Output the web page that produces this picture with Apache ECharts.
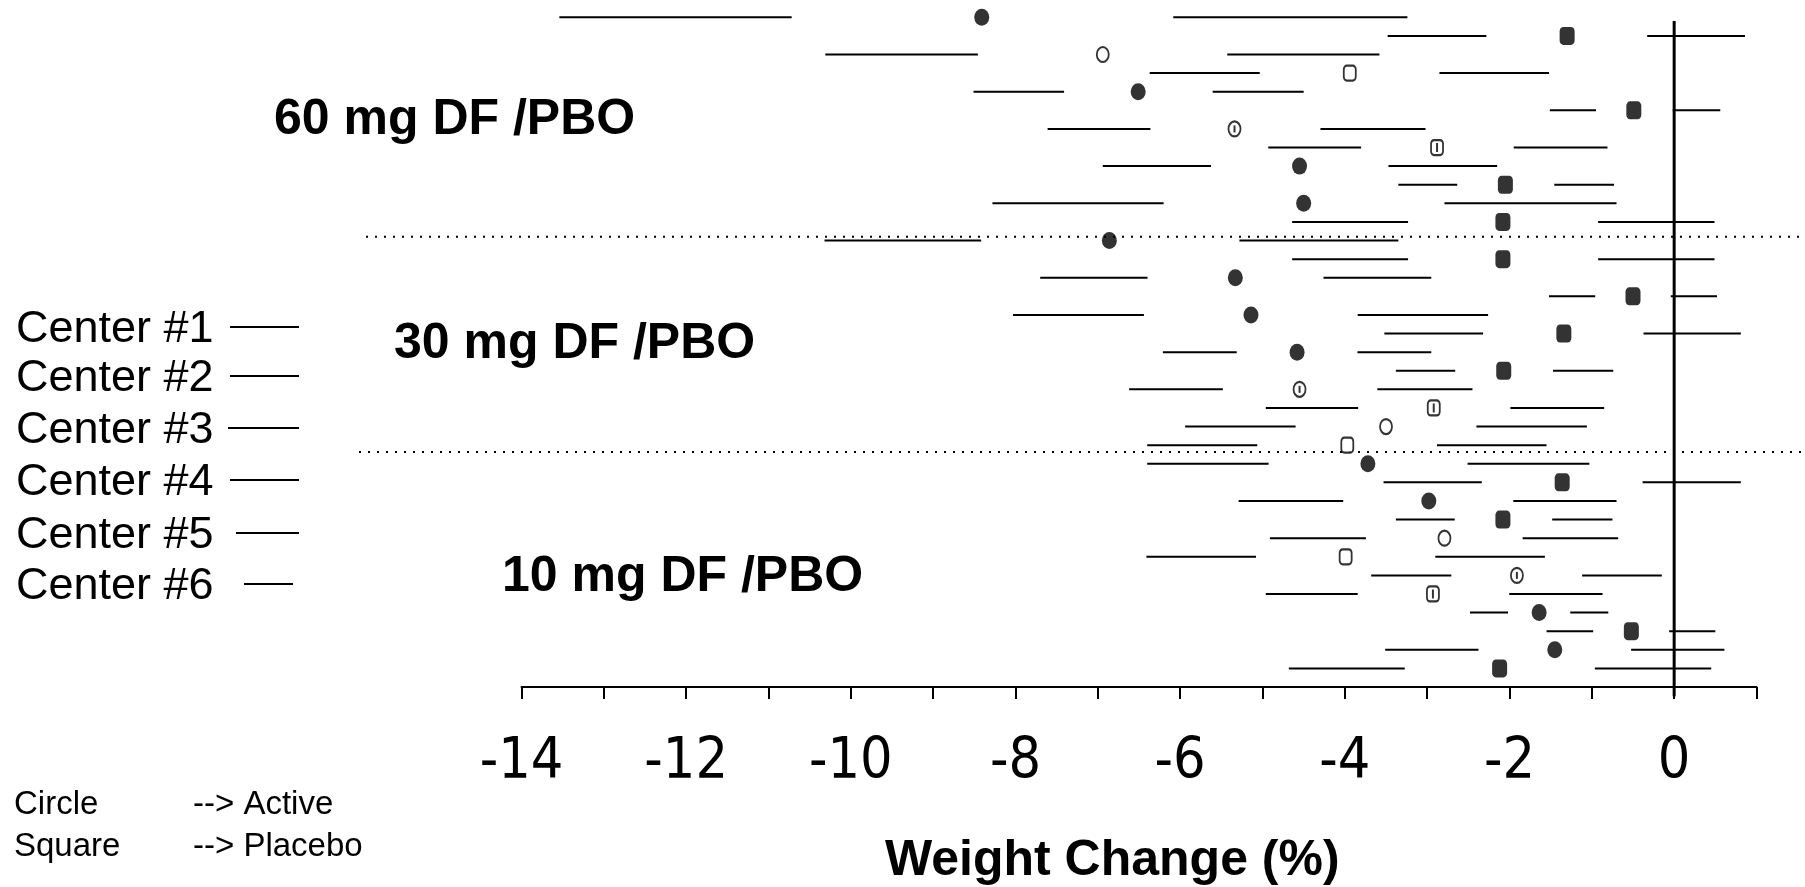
<!DOCTYPE html>
<html>
<head>
<meta charset="utf-8">
<script src="https://cdn.jsdelivr.net/npm/echarts@6/dist/echarts.min.js"></script>
<style>
html,body{margin:0;padding:0;background:#fff;}
#chart{width:1805px;height:887px;}
</style>
</head>
<body>
<div id="chart"></div>
<script>
// ---- data ----
const doseGroups = ['60 mg DF /PBO', '30 mg DF /PBO', '10 mg DF /PBO'];
const centerLabels = ['Center #1', 'Center #2', 'Center #3', 'Center #4', 'Center #5', 'Center #6'];
// row order top -> bottom (36 rows: active / placebo pairs)
const rowLabels = [
  '60 C1 Active','60 C1 Placebo','60 C2 Active','60 C2 Placebo','60 C3 Active','60 C3 Placebo',
  '60 C4 Active','60 C4 Placebo','60 C5 Active','60 C5 Placebo','60 C6 Active','60 C6 Placebo',
  '30 C6 Active','30 C6 Placebo','30 C3 Active','30 C3 Placebo','30 C1 Active','30 C1 Placebo',
  '30 C5 Active','30 C5 Placebo','30 C4 Active','30 C4 Placebo','30 C2 Active','30 C2 Placebo',
  '10 C1 Active','10 C1 Placebo','10 C5 Active','10 C5 Placebo','10 C2 Active','10 C2 Placebo',
  '10 C4 Active','10 C4 Placebo','10 C3 Active','10 C3 Placebo','10 C6 Active','10 C6 Placebo'
];
const meanChange = [
  -8.41,-1.30,-6.94,-3.94,-6.51,-0.49,-5.34,-2.88,-4.55,-2.05,-4.50,-2.08,
  -6.86,-2.08,-5.33,-0.50,-5.14,-1.34,-4.58,-2.07,-4.55,-2.92,-3.50,-3.97,
  -3.72,-1.36,-2.98,-2.08,-2.79,-3.99,-1.91,-2.93,-1.64,-0.52,-1.45,-2.12
];
const lowerCI = [
  -13.54,-3.48,-10.31,-6.37,-8.51,-1.51,-7.61,-4.93,-6.94,-3.35,-8.28,-4.64,
  -10.32,-4.64,-7.70,-1.52,-8.03,-3.52,-6.21,-3.38,-6.62,-4.96,-5.94,-6.40,
  -6.40,-3.53,-5.29,-3.38,-4.91,-6.41,-3.68,-4.96,-2.48,-1.55,-3.51,-4.68
];
const upperCI = [
  -3.24,0.86,-3.58,-1.52,-4.50,0.56,-3.02,-0.81,-2.15,-0.73,-0.70,0.49,
  -3.35,0.49,-2.95,0.52,-2.26,0.81,-2.95,-0.74,-2.45,-0.85,-1.06,-1.55,
  -1.03,0.81,-0.70,-0.75,-0.68,-1.57,-0.15,-0.87,-0.80,0.50,0.61,0.45
];
// FC filled circle, FS filled square, OC open circle, OS open square, MC marked circle, MS marked square
const markerType = [
  'FC','FS','OC','OS','FC','FS','MC','MS','FC','FS','FC','FS',
  'FC','FS','FC','FS','FC','FS','FC','FS','MC','MS','OC','OS',
  'FC','FS','FC','FS','OC','OS','MC','MS','FC','FS','FC','FS'
];
const groupSeparators = [11.8, 23.37];
const xTickLabels = [-14, -12, -10, -8, -6, -4, -2, 0];

// ---- chart ----
const chart = echarts.init(document.getElementById('chart'), null, {renderer: 'canvas'});
const SEG = 0.55; // fraction of each half-interval drawn as line

const ciData = rowLabels.map((r, i) => [i, lowerCI[i], meanChange[i], upperCI[i]]);
function pts(type) {
  const out = [];
  markerType.forEach((t, i) => { if (t === type) out.push([meanChange[i], i]); });
  return out;
}

const option = {
  animation: false,
  backgroundColor: '#fff',
  grid: {left: 521.5, right: 48.5, top: 8, bottom: 200, containLabel: false},
  xAxis: {
    type: 'value', min: -14, max: 1, interval: 1,
    axisLine: {show: true, onZero: false, lineStyle: {color: '#000', width: 2}},
    axisTick: {show: true, length: 12, lineStyle: {color: '#000', width: 2}},
    splitLine: {show: false},
    axisLabel: {
      margin: 48,
      color: '#000',
      fontSize: 57,
      fontFamily: '"Liberation Sans Narrow", "DejaVu Sans Condensed", "Arial Narrow", sans-serif',
      formatter: v => xTickLabels.indexOf(v) >= 0 ? String(v) : ''
    }
  },
  yAxis: {type: 'value', inverse: true, min: -0.5, max: 36, show: false},
  series: [
    {
      type: 'custom', name: 'CI', data: ciData,
      encode: {x: [1, 2, 3], y: 0},
      renderItem: function (params, api) {
        const i = api.value(0), lo = api.value(1), m = api.value(2), hi = api.value(3);
        const a = api.coord([lo, i]);
        const b = api.coord([lo + SEG * (m - lo), i]);
        const c = api.coord([hi - SEG * (hi - m), i]);
        const d = api.coord([hi, i]);
        const st = {stroke: '#000', lineWidth: 2};
        return {type: 'group', children: [
          {type: 'line', shape: {x1: a[0], y1: a[1], x2: b[0], y2: b[1]}, style: st},
          {type: 'line', shape: {x1: c[0], y1: c[1], x2: d[0], y2: d[1]}, style: st}
        ]};
      }
    },
    {
      type: 'line', name: 'zero', data: [[0, 0.2], [0, 36.5]], clip: false,
      symbol: 'none', lineStyle: {color: '#000', width: 3}
    },
    {type: 'scatter', name: 'FC', data: pts('FC'), symbol: 'circle', symbolSize: [15, 17], itemStyle: {color: '#000'}},
    {type: 'scatter', name: 'FS', data: pts('FS'), symbol: 'roundRect', symbolSize: [15, 18], itemStyle: {color: '#000'}},
    {type: 'scatter', name: 'OC', data: pts('OC'), symbol: 'emptyCircle', symbolSize: [12, 15], itemStyle: {color: '#000', borderWidth: 3}},
    {type: 'scatter', name: 'OS', data: pts('OS'), symbol: 'emptyRoundRect', symbolSize: [12, 15], itemStyle: {color: '#000', borderWidth: 3}},
    {type: 'scatter', name: 'MC', data: pts('MC'), symbol: 'emptyCircle', symbolSize: [12, 15], itemStyle: {color: '#000', borderWidth: 3}},
    {type: 'scatter', name: 'MS', data: pts('MS'), symbol: 'emptyRoundRect', symbolSize: [12, 15], itemStyle: {color: '#000', borderWidth: 3}},
    {type: 'scatter', name: 'MCmark', data: pts('MC'), symbol: 'rect', symbolSize: [2, 7], itemStyle: {color: '#000'}},
    {type: 'scatter', name: 'MSmark', data: pts('MS'), symbol: 'rect', symbolSize: [2, 9], itemStyle: {color: '#000'}}
  ]
};
chart.setOption(option);

// ---- annotations ----
const gfx = [];
const boldFont = 'bold 50px "Liberation Sans", Arial, sans-serif';
const groupPos = [[274, 119], [394, 343], [502, 576]];
doseGroups.forEach((g, k) => {
  gfx.push({type: 'text', left: groupPos[k][0], top: groupPos[k][1] - 24,
    style: {text: g, font: boldFont, fill: '#000'}});
});
const centerY = [327, 376, 428, 480, 533, 584];
const centerLineX = [[230, 299], [230, 299], [228, 299], [230, 299], [236, 299], [244, 293]];
centerLabels.forEach((c, k) => {
  gfx.push({type: 'text', left: 16, top: centerY[k] - 20,
    style: {text: c, font: '45px "Liberation Sans", Arial, sans-serif', fill: '#000'}});
  gfx.push({type: 'line', shape: {x1: centerLineX[k][0], y1: centerY[k], x2: centerLineX[k][1], y2: centerY[k]},
    style: {stroke: '#000', lineWidth: 2}});
});
const noteFont = '33px "Liberation Sans", Arial, sans-serif';
gfx.push({type: 'text', left: 14, top: 788, style: {text: 'Circle', font: noteFont, fill: '#000'}});
gfx.push({type: 'text', left: 193, top: 788, style: {text: '--> Active', font: noteFont, fill: '#000'}});
gfx.push({type: 'text', left: 14, top: 830, style: {text: 'Square', font: noteFont, fill: '#000'}});
gfx.push({type: 'text', left: 193, top: 830, style: {text: '--> Placebo', font: noteFont, fill: '#000'}});
gfx.push({type: 'text', left: 1113 - 228, top: 836,
  style: {text: 'Weight Change (%)', font: 'bold 50px "Liberation Sans", Arial, sans-serif', fill: '#000'}});
const sepLeft = [366, 359];
groupSeparators.forEach((s, k) => {
  const y = chart.convertToPixel({yAxisIndex: 0}, s);
  gfx.push({type: 'line', shape: {x1: sepLeft[k], y1: y, x2: 1805, y2: y},
    style: {stroke: '#000', lineWidth: 2, lineDash: [2, 7]}});
});
chart.setOption({graphic: gfx});
</script>
</body>
</html>
